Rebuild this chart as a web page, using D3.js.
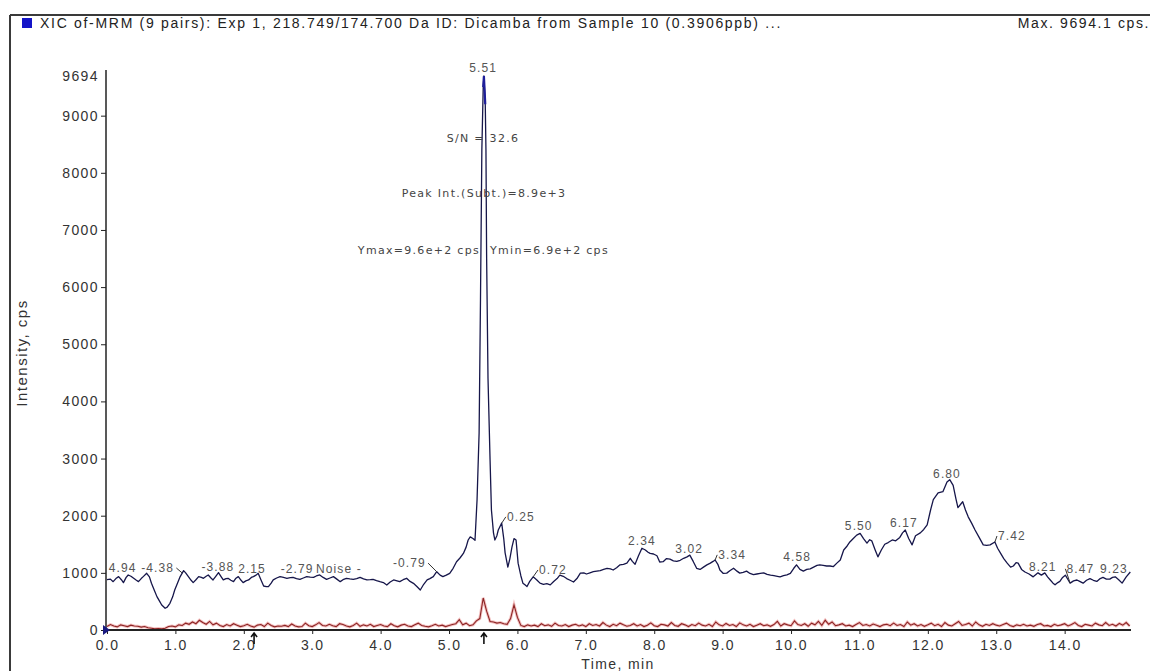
<!DOCTYPE html>
<html>
<head>
<meta charset="utf-8">
<script src="https://cdn.jsdelivr.net/npm/d3@7"></script>
<style>
body { margin: 0; background: #fff; }
svg { display: block; }
</style>
</head>
<body>
<div id="mainDiv"></div>
<script>
'use strict';

// XIC trace, Dicamba 218.749/174.700 (time in min, intensity in cps)
var blueTime = [0.00,0.05,0.09,0.13,0.17,0.21,0.24,0.28,0.31,0.35,0.39,0.43,0.46,0.50,0.53,0.58,0.62,0.65,0.69,0.73,0.77,0.80,0.85,0.88,0.92,0.96,0.99,
  1.03,1.07,1.12,1.15,1.19,1.23,1.26,1.30,1.34,1.38,1.41,1.45,1.48,1.52,1.55,1.59,1.63,1.67,1.70,1.74,1.77,1.81,1.85,1.88,1.92,1.96,1.99,
  2.03,2.07,2.11,2.14,2.18,2.21,2.25,2.29,2.33,2.36,2.40,2.43,2.48,2.53,2.58,2.63,2.68,2.72,2.77,2.82,2.87,2.92,2.97,
  3.02,3.06,3.11,3.16,3.21,3.26,3.31,3.36,3.41,3.45,3.50,3.55,3.60,3.65,3.70,3.75,3.80,3.85,3.89,3.94,3.99,
  4.04,4.09,4.14,4.19,4.24,4.28,4.33,4.38,4.43,4.48,4.53,4.58,4.63,4.68,4.72,4.77,4.82,4.87,4.91,4.96,
  5.01,5.06,5.11,5.16,5.21,5.25,5.28,5.31,5.35,5.38,5.41,5.44,5.46,5.48,5.50,5.51,5.53,5.54,5.55,5.57,5.60,5.62,5.65,5.67,5.70,5.72,5.77,5.80,5.82,5.86,5.89,5.92,5.95,5.98,
  6.01,6.05,6.08,6.11,6.14,6.18,6.23,6.28,6.33,6.38,6.43,6.48,6.53,6.58,6.62,6.67,6.72,6.77,6.82,6.87,6.92,6.97,
  7.01,7.06,7.11,7.16,7.21,7.26,7.31,7.36,7.40,7.45,7.50,7.55,7.60,7.65,7.68,7.72,7.77,7.82,7.87,7.91,7.94,7.99,
  8.04,8.08,8.13,8.18,8.23,8.28,8.33,8.38,8.43,8.48,8.52,8.57,8.62,8.67,8.72,8.77,8.82,8.86,8.89,8.93,8.96,
  9.01,9.06,9.11,9.16,9.21,9.25,9.30,9.35,9.40,9.45,9.50,9.55,9.60,9.65,9.70,9.75,9.80,9.84,9.89,9.94,9.99,
  10.04,10.08,10.13,10.18,10.23,10.28,10.33,10.38,10.42,10.47,10.52,10.57,10.62,10.67,10.72,10.77,10.82,10.86,10.91,10.96,
  11.01,11.06,11.11,11.15,11.18,11.23,11.27,11.32,11.37,11.42,11.48,11.53,11.59,11.63,11.67,11.72,11.77,11.82,11.89,11.94,11.99,
  12.04,12.08,12.15,12.22,12.28,12.32,12.37,12.41,12.44,12.48,12.51,12.55,12.59,12.64,12.69,12.75,12.81,12.86,12.91,12.98,
  13.02,13.06,13.11,13.16,13.21,13.25,13.29,13.32,13.37,13.42,13.48,13.54,13.58,13.61,13.66,13.71,13.75,13.79,13.83,13.86,13.90,13.93,13.97,
  14.01,14.05,14.08,14.13,14.18,14.22,14.27,14.32,14.37,14.42,14.47,14.52,14.56,14.61,14.66,14.70,14.74,14.79,14.84,14.90,14.96];

var blueCps = [880,890,846,900,934,880,829,920,963,940,905,870,846,900,934,992,930,817,700,584,500,438,380,400,467,580,700,
  820,934,1039,1000,934,870,829,880,934,920,905,940,963,910,876,940,1004,930,876,900,905,870,846,900,934,870,829,
  860,876,920,934,960,992,880,770,760,759,820,876,910,934,920,905,915,922,900,887,910,934,925,
  922,945,963,920,887,910,934,890,846,880,905,895,887,900,922,895,876,880,887,865,846,
  830,788,840,876,860,846,880,905,850,817,760,700,800,876,900,934,1020,960,934,960,
  992,1080,1195,1260,1340,1450,1575,1630,1600,1570,2280,3450,5780,8400,9500,9694,9200,8400,6500,4400,2980,2100,1700,1575,1650,1750,1870,1600,1350,1100,1250,1450,1600,1575,
  1170,950,820,790,760,850,930,880,820,800,810,790,850,900,960,940,900,870,840,900,995,1000,
  980,1000,1020,1030,1040,1060,1080,1070,1050,1090,1140,1150,1170,1255,1200,1150,1300,1430,1400,1360,1340,1330,
  1300,1190,1195,1250,1240,1210,1200,1220,1255,1280,1310,1200,1080,1060,1100,1140,1170,1200,1225,1150,1050,
  990,995,1040,1080,1030,995,1010,1030,990,970,980,990,1000,975,960,950,940,930,950,965,990,
  1080,1140,1060,1030,1060,1070,1100,1130,1140,1130,1120,1120,1110,1170,1225,1400,1470,1540,1600,1660,
  1690,1600,1520,1580,1560,1400,1280,1400,1500,1530,1575,1560,1620,1700,1750,1600,1490,1650,1700,1760,1840,
  2100,2280,2400,2420,2590,2630,2530,2300,2140,2200,2245,2100,1980,1870,1750,1620,1490,1480,1490,1540,
  1430,1350,1250,1170,1100,1120,1180,1170,1060,1015,980,930,970,1000,960,1000,930,875,820,790,830,850,920,
  960,880,820,860,875,850,820,870,900,870,850,900,920,890,890,920,930,880,820,930,1015];

// second (red) trace, sampled every 0.05 min from 0.00
var redSampleMin = 0.05;
var redCps = [60,95,70,55,90,75,60,85,70,65,50,60,40,30,20,25,20,30,60,70,
  55,90,80,120,100,140,110,170,130,100,150,90,120,80,60,95,70,110,85,60,
  75,100,70,50,85,95,60,120,80,55,70,65,80,60,105,70,55,60,120,75,
  60,90,130,80,70,100,75,60,110,95,70,55,80,120,65,90,70,100,60,80,
  95,70,60,110,75,55,85,100,70,60,90,120,80,65,55,75,100,70,85,60,
  80,95,110,180,90,120,75,90,160,200,560,330,150,140,120,130,110,100,200,440,
  220,80,60,90,70,85,60,110,75,90,65,120,80,70,95,60,85,100,70,90,
  60,110,80,95,70,130,85,60,100,75,120,90,65,80,110,70,95,60,85,125,
  75,60,100,90,70,130,80,65,110,90,60,95,75,120,85,70,100,60,140,90,
  70,115,80,95,60,125,90,70,100,60,85,110,75,90,65,95,150,70,110,90,
  75,160,95,80,110,65,120,90,150,80,170,100,140,75,90,110,70,85,60,95,
  130,80,95,70,105,85,60,90,100,75,120,80,95,60,140,85,110,70,95,65,
  90,120,75,100,60,130,85,70,110,150,80,95,120,70,140,90,65,100,80,110,
  85,70,95,120,80,60,90,75,100,70,85,65,95,110,70,80,60,100,75,90,
  110,70,95,130,80,60,100,85,70,120,90,75,130,80,100,70,115,85,130,70];

var xTickValues = [0,1,2,3,4,5,6,7,8,9,10,11,12,13,14];
var yTickValues = [0,1000,2000,3000,4000,5000,6000,7000,8000,9000,9694];

// peak labels: text, centre time, baseline intensity
var peakLabelText = ["4.94","-4.38","-3.88","2.15","-2.79","Noise -","-0.79","5.51","0.25","0.72","2.34","3.02","3.34","4.58","5.50","6.17","6.80","7.42","8.21","8.47","9.23"];
var peakLabelTime = [0.23,0.74,1.62,2.12,2.78,3.39,4.42,5.50,6.05,6.52,7.82,8.51,9.14,10.09,10.99,11.65,12.28,13.23,13.68,14.23,14.72];
var peakLabelCps = [1015,1015,1030,1000,1000,1000,1100,9770,1910,980,1490,1350,1245,1210,1750,1805,2660,1575,1030,1000,1000];
// label -> time of the trace point its leader line goes to
var leaderText = ["-4.38","-0.79","0.25","0.72","3.34","7.42","8.47"];
var leaderTime = [1.10,4.82,5.77,6.23,8.89,12.98,14.08];

var xicApp = {};

xicApp.appendSvg = function(element, w, h)
{
    var node = d3.select(element).append("svg")
        .attr("width", w)
        .attr("height", h);
    return node;
}

xicApp.traceAt = function(t)
{
    var i = d3.bisectLeft(blueTime, t);
    if (i <= 0) return blueCps[0];
    if (i >= blueTime.length) return blueCps[blueCps.length - 1];
    var f = (t - blueTime[i-1]) / (blueTime[i] - blueTime[i-1]);
    return blueCps[i-1] + f * (blueCps[i] - blueCps[i-1]);
}

xicApp.appendFrame = function(svg)
{
    svg.append("line").attr("x1", 10).attr("y1", 15).attr("x2", 1150).attr("y2", 15)
        .attr("stroke", "#3a3a3a").attr("stroke-width", 2);
    svg.append("line").attr("x1", 10).attr("y1", 15).attr("x2", 10).attr("y2", 671)
        .attr("stroke", "#3a3a3a").attr("stroke-width", 2);

    svg.append("rect").attr("x", 22).attr("y", 18).attr("width", 10).attr("height", 10)
        .attr("fill", "#1414c8");

    svg.append("text")
        .text("XIC of-MRM (9 pairs): Exp 1, 218.749/174.700 Da ID: Dicamba from Sample 10 (0.3906ppb) ...")
        .attr("x", 40).attr("y", 28)
        .attr("font-family", "Liberation Sans, Arial, sans-serif")
        .attr("font-size", "14px")
        .attr("letter-spacing", "1.7px")
        .attr("fill", "#222");

    svg.append("text")
        .text("Max. 9694.1 cps.")
        .attr("x", 1150).attr("y", 28)
        .attr("text-anchor", "end")
        .attr("font-family", "Liberation Sans, Arial, sans-serif")
        .attr("font-size", "14px")
        .attr("letter-spacing", "1.6px")
        .attr("fill", "#222");
}

xicApp.appendAxes = function(svg, x, y)
{
    var fontFam = "Liberation Sans, Arial, sans-serif";

    var yAxis = d3.axisLeft(y)
        .tickValues(yTickValues)
        .tickFormat(d3.format("d"))
        .tickSize(5)
        .tickSizeOuter(0)
        .tickPadding(2);
    var gy = svg.append("g").attr("transform", "translate(106,0)").call(yAxis);
    gy.select(".domain").attr("stroke", "#222").attr("stroke-width", 1.5)
        .attr("d", "M0," + y(0) + "V" + (y(9694) - 6));
    gy.selectAll(".tick line").attr("stroke", "#222")
        .filter(function(d) { return d === 9694; }).remove();
    gy.selectAll(".tick text")
        .attr("font-family", fontFam).attr("font-size", "14px")
        .attr("letter-spacing", "1.4px").attr("fill", "#333");

    var xAxis = d3.axisBottom(x)
        .tickValues(xTickValues)
        .tickFormat(d3.format(".1f"))
        .tickSize(4)
        .tickSizeOuter(0)
        .tickPadding(6);
    var gx = svg.append("g").attr("transform", "translate(0,630)").call(xAxis);
    gx.select(".domain").attr("stroke", "#222").attr("stroke-width", 2)
        .attr("d", "M106,0H" + x(14.97));
    gx.selectAll(".tick line").attr("stroke", "#222");
    gx.selectAll(".tick text")
        .attr("font-family", fontFam).attr("font-size", "14px")
        .attr("letter-spacing", "1.4px").attr("fill", "#333");

    svg.append("text").text("Time, min")
        .attr("x", 618).attr("y", 669)
        .attr("text-anchor", "middle")
        .attr("font-family", fontFam).attr("font-size", "14px")
        .attr("letter-spacing", "1.4px").attr("fill", "#333");

    svg.append("text").text("Intensity, cps")
        .attr("transform", "translate(27,353) rotate(-90)")
        .attr("text-anchor", "middle")
        .attr("font-family", fontFam).attr("font-size", "15px")
        .attr("letter-spacing", "1.5px")
        .attr("fill", "#333");

    // start-of-trace marker at the origin
    svg.append("path")
        .attr("d", "M" + (x(0) - 4) + "," + (y(0) - 5) + "L" + (x(0) + 3) + "," + y(0) + "L" + (x(0) - 4) + "," + (y(0) + 5) + "Z")
        .attr("fill", "#1a1a80");

    // peak start / apex markers below the axis
    [2.15, 5.51].forEach(function(t) {
        var px = x(t);
        svg.append("path")
            .attr("d", "M" + px + ",644V634M" + (px - 3) + ",637L" + px + ",633L" + (px + 3) + ",637")
            .attr("stroke", "#111").attr("stroke-width", 1.6).attr("fill", "none");
    });
}

xicApp.appendTraces = function(svg, x, y)
{
    var redPts = redCps.map(function(d, i) { return [i * redSampleMin, d]; });
    var bluePts = blueTime.map(function(t, i) { return [t, blueCps[i]]; });

    var line = d3.line()
        .x(function(d) { return x(d[0]); })
        .y(function(d) { return y(d[1]); });

    svg.append("path").datum(redPts)
        .attr("d", line)
        .attr("fill", "none")
        .attr("stroke", "#f3c0c0")
        .attr("stroke-width", 3);
    svg.append("path").datum(redPts)
        .attr("d", line)
        .attr("fill", "none")
        .attr("stroke", "#8c2424")
        .attr("stroke-width", 1.1);

    svg.append("path").datum(bluePts)
        .attr("d", line)
        .attr("fill", "none")
        .attr("stroke", "#16164a")
        .attr("stroke-width", 1.3)
        .attr("stroke-linejoin", "round");

    // the apex is drawn heavier in the reference
    var apex = bluePts.filter(function(d) { return d[0] >= 5.50 && d[0] <= 5.53; });
    svg.append("path").datum(apex)
        .attr("d", line)
        .attr("fill", "none")
        .attr("stroke", "#1e1e9a")
        .attr("stroke-width", 2.2);
}

xicApp.appendLabels = function(svg, x, y)
{
    var labels = peakLabelText.map(function(s, i) {
        return { text: s, t: peakLabelTime[i], v: peakLabelCps[i] };
    });

    svg.selectAll("text.peak")
        .data(labels)
        .enter()
        .append("text")
            .attr("class", "peak")
            .text(function(d) { return d.text; })
            .attr("x", function(d) { return x(d.t); })
            .attr("y", function(d) { return y(d.v); })
            .attr("text-anchor", "middle")
            .attr("font-family", "Liberation Sans, Arial, sans-serif")
            .attr("font-size", "12px")
            .attr("letter-spacing", "1.1px")
            .attr("fill", "#555");

    // leader lines from the trace up to their label
    leaderText.forEach(function(s, i) {
        var k = peakLabelText.indexOf(s);
        var tx = x(leaderTime[i]), ty = y(xicApp.traceAt(leaderTime[i]));
        var lx = x(peakLabelTime[k]), ly = y(peakLabelCps[k]) - 4;
        var half = (s.length * 7.5) / 2;
        var ex = tx > lx ? lx + half : lx - half;
        svg.append("line")
            .attr("x1", tx).attr("y1", ty)
            .attr("x2", ex).attr("y2", ly)
            .attr("stroke", "#333").attr("stroke-width", 1);
    });

    var ann = "DejaVu Sans, Verdana, sans-serif";
    var notes = [
        { s: "S/N = 32.6", px: 483, py: 142, a: "middle" },
        { s: "Peak Int.(Subt.)=8.9e+3", px: 484, py: 197, a: "middle" },
        { s: "Ymax=9.6e+2 cps", px: 480, py: 254, a: "end" },
        { s: "Ymin=6.9e+2 cps", px: 490, py: 254, a: "start" }
    ];
    svg.selectAll("text.note")
        .data(notes)
        .enter()
        .append("text")
            .attr("class", "note")
            .text(function(d) { return d.s; })
            .attr("x", function(d) { return d.px; })
            .attr("y", function(d) { return d.py; })
            .attr("text-anchor", function(d) { return d.a; })
            .attr("font-family", ann)
            .attr("font-size", "11px")
            .attr("letter-spacing", "1.3px")
            .attr("fill", "#444");
}

xicApp.run = function()
{
    var svg = xicApp.appendSvg("#mainDiv", 1150, 671);
    var x = d3.scaleLinear().domain([0, 14.97]).range([107, 1131]);
    var y = d3.scaleLinear().domain([0, 9694]).range([630, 76]);

    xicApp.appendFrame(svg);
    xicApp.appendTraces(svg, x, y);
    xicApp.appendAxes(svg, x, y);
    xicApp.appendLabels(svg, x, y);
}

window.onload = xicApp.run;
</script>
</body>
</html>
